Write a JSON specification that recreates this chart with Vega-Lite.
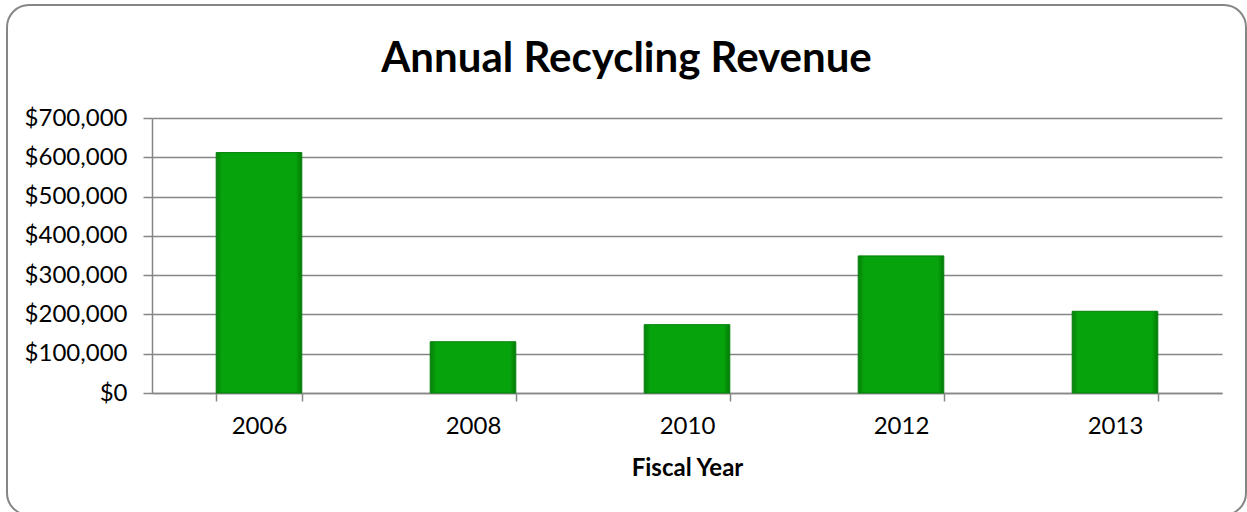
{
  "$schema": "https://vega.github.io/schema/vega-lite/v6.json",
  "autosize": {"type": "none"},
  "width": 1239,
  "height": 510,
  "padding": {"left": 7, "top": 5, "right": 1, "bottom": 0},
  "background": "white",
  "title": {
    "text": "Annual Recycling Revenue",
    "font": "Lato",
    "fontSize": 42,
    "fontWeight": "bold",
    "color": "black",
    "anchor": "middle",
    "frame": "group",
    "baseline": "alphabetic",
    "offset": -109
  },
  "data": {
    "values": [
      {"year": "2006", "revenue": 612000},
      {"year": "2008", "revenue": 130500},
      {"year": "2010", "revenue": 174000},
      {"year": "2012", "revenue": 349000},
      {"year": "2013", "revenue": 208000}
    ]
  },
  "mark": {
    "type": "bar",
    "fill": {
      "gradient": "linear",
      "x1": 0, "y1": 0, "x2": 1, "y2": 0,
      "stops": [
        {"offset": 0, "color": "#04800a"},
        {"offset": 0.07, "color": "#07a30c"},
        {"offset": 0.93, "color": "#07a30c"},
        {"offset": 1, "color": "#047a08"}
      ]
    },
    "stroke": "#05800a",
    "strokeWidth": 1
  },
  "encoding": {
    "x": {
      "field": "year",
      "type": "nominal",
      "sort": null,
      "scale": {"range": [145, 1215], "paddingInner": 0.6, "paddingOuter": 0.3},
      "axis": {
        "title": "Fiscal Year",
        "titleFont": "Lato",
        "titleFontSize": 24,
        "titleFontWeight": "bold",
        "titleColor": "black",
        "titlePadding": 18,
        "labelFont": "Lato",
        "labelFontSize": 24,
        "labelColor": "black",
        "labelAngle": 0,
        "labelPadding": 13,
        "offset": -122,
        "tickBand": "extent",
        "tickSize": 8,
        "tickColor": "#868686",
        "tickWidth": 1.5,
        "domainColor": "#868686",
        "domainWidth": 1.5,
        "grid": false
      }
    },
    "y": {
      "field": "revenue",
      "type": "quantitative",
      "scale": {"domain": [0, 700000], "range": [388, 113], "nice": false, "zero": true},
      "axis": {
        "title": null,
        "values": [0, 100000, 200000, 300000, 400000, 500000, 600000, 700000],
        "format": "$,.0f",
        "labelFont": "Lato",
        "labelFontSize": 24,
        "labelColor": "black",
        "labelPadding": 16,
        "offset": -145,
        "tickSize": 9,
        "tickColor": "#868686",
        "tickWidth": 1.5,
        "domainColor": "#868686",
        "domainWidth": 1.5,
        "grid": true,
        "gridColor": "#868686",
        "gridWidth": 1.5
      }
    }
  },
  "config": {
    "view": {"stroke": "#868686", "strokeWidth": 2, "cornerRadius": 22, "fill": "white"}
  }
}
